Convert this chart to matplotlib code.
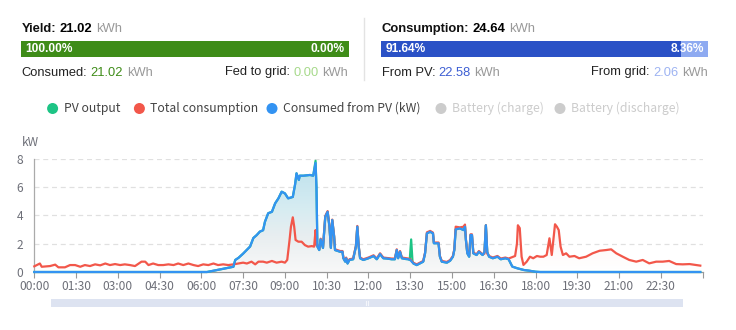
import numpy as np
import matplotlib
matplotlib.use("Agg")
import matplotlib.pyplot as plt
from matplotlib.patches import Polygon, Rectangle, Circle

# ---- data (minutes of day, kW) ----
pv_t = [0, 372, 400, 429, 433, 440, 450, 465, 472, 479,
        486, 493, 497, 504, 512, 519, 526, 533, 540, 547,
        557, 562, 565, 570, 572, 580, 594, 601, 606, 608,
        610, 614, 617, 622, 627, 632, 636, 639, 642, 646,
        648, 659, 664, 666, 670, 672, 675, 679, 687, 693,
        696, 699, 702, 709, 720, 731, 738, 745, 752, 760,
        770, 777, 781, 784, 788, 792, 800, 806, 809, 812,
        815, 817, 824, 831, 838, 842, 846, 853, 859, 861,
        871, 874, 878, 889, 896, 902, 905, 908, 917, 925,
        928, 930, 933, 937, 940, 943, 946, 953, 958, 966,
        970, 973, 976, 980, 988, 998, 1005, 1015, 1022, 1030,
        1041, 1055, 1065, 1080, 1090, 1435]
pv_kw = [0, 0, 0.18, 0.37, 0.85, 1.0, 1.3, 1.8, 2.4, 2.6,
         2.85, 2.95, 3.55, 4.15, 4.25, 4.85, 5.2, 5.67, 5.55, 5.2,
         5.3, 6.2, 6.97, 6.5, 6.8, 6.8, 6.85, 6.8, 7.85, 6.0,
         1.8, 1.55, 2.3, 1.7, 3.9, 4.25, 3.2, 1.7, 3.67, 2.5,
         1.55, 1.43, 1.43, 0.97, 0.73, 0.97, 0.6, 0.85, 0.9, 1.8,
         3.2, 1.8, 0.97, 0.85, 0.97, 1.13, 0.9, 1.27, 0.97, 0.95,
         0.9, 0.9, 1.55, 0.97, 1.43, 0.97, 0.92, 0.9, 0.85, 2.3,
         0.7, 0.6, 0.49, 0.61, 0.73, 1.32, 2.73, 2.84, 2.73, 2.03,
         2.03, 1.08, 0.73, 0.66, 0.8, 1.08, 1.55, 3.01, 3.08, 2.96,
         3.2, 2.26, 1.32, 1.08, 2.61, 2.61, 1.32, 1.2, 1.43, 1.2,
         1.4, 3.3, 1.4, 1.08, 0.97, 1.08, 0.9, 0.97, 0.9, 0.38,
         0.26, 0.14, 0.1, 0.02, 0, 0]

used_t = [0, 372, 400, 429, 433, 440, 450, 465, 472, 479,
          486, 493, 497, 504, 512, 519, 526, 533, 540, 547,
          557, 562, 565, 570, 572, 580, 594, 601, 606, 608,
          610, 614, 617, 622, 627, 632, 636, 639, 642, 646,
          648, 659, 664, 666, 670, 672, 675, 679, 687, 693,
          696, 699, 702, 709, 720, 731, 738, 745, 752, 760,
          770, 777, 781, 784, 788, 792, 800, 806, 810, 817,
          824, 831, 838, 842, 846, 853, 859, 861, 871, 874,
          878, 889, 896, 902, 905, 908, 917, 925, 928, 930,
          933, 937, 940, 943, 946, 953, 958, 966, 970, 973,
          976, 980, 988, 998, 1005, 1015, 1022, 1030, 1041, 1055,
          1065, 1080, 1090, 1435]
used_kw = [0, 0, 0.18, 0.37, 0.85, 1.0, 1.3, 1.8, 2.4, 2.6,
           2.85, 2.95, 3.55, 4.15, 4.25, 4.85, 5.2, 5.67, 5.55, 5.2,
           5.3, 6.2, 6.97, 6.5, 6.8, 6.8, 6.85, 6.8, 7.7, 6.0,
           1.8, 1.55, 2.3, 1.7, 3.9, 4.25, 3.2, 1.7, 3.67, 2.5,
           1.55, 1.43, 1.43, 0.97, 0.73, 0.97, 0.6, 0.85, 0.9, 1.8,
           3.2, 1.8, 0.97, 0.85, 0.97, 1.13, 0.9, 1.27, 0.97, 0.95,
           0.9, 0.9, 1.55, 0.97, 1.43, 0.97, 0.92, 0.9, 0.85, 0.6,
           0.49, 0.61, 0.73, 1.32, 2.73, 2.84, 2.73, 2.03, 2.03, 1.08,
           0.73, 0.66, 0.8, 1.08, 1.55, 3.01, 3.08, 2.96, 3.2, 2.26,
           1.32, 1.08, 2.61, 2.61, 1.32, 1.2, 1.43, 1.2, 1.4, 3.3,
           1.4, 1.08, 0.97, 1.08, 0.9, 0.97, 0.9, 0.38, 0.26, 0.14,
           0.1, 0.02, 0, 0]

load_t = [0, 12, 16, 34, 45, 52, 66, 77, 88, 99,
          109, 120, 131, 142, 153, 163, 174, 185, 195, 206,
          217, 231, 239, 246, 256, 267, 278, 289, 300, 310,
          321, 332, 343, 353, 364, 375, 386, 396, 407, 418,
          429, 440, 450, 458, 468, 476, 483, 493, 501, 512,
          522, 533, 540, 545, 550, 553, 557, 560, 563, 569,
          576, 583, 590, 598, 603, 606, 608, 610, 614, 617,
          622, 627, 632, 636, 639, 642, 646, 648, 659, 664,
          666, 670, 672, 675, 679, 687, 693, 696, 699, 702,
          709, 720, 731, 738, 745, 752, 770, 777, 781, 784,
          788, 792, 806, 810, 817, 824, 831, 838, 842, 846,
          853, 859, 861, 871, 874, 878, 889, 896, 902, 905,
          908, 917, 925, 928, 930, 933, 937, 940, 943, 946,
          953, 958, 966, 970, 973, 976, 980, 988, 998, 1005,
          1015, 1022, 1030, 1036, 1040, 1042, 1046, 1050, 1054, 1061,
          1068, 1075, 1083, 1090, 1097, 1104, 1110, 1115, 1122, 1126,
          1130, 1134, 1139, 1146, 1153, 1164, 1174, 1189, 1203, 1218,
          1232, 1243, 1254, 1268, 1282, 1297, 1311, 1325, 1340, 1354,
          1368, 1383, 1397, 1412, 1426, 1435]
load_kw = [0.4, 0.6, 0.37, 0.42, 0.52, 0.33, 0.33, 0.49, 0.49, 0.37,
           0.49, 0.42, 0.54, 0.47, 0.6, 0.49, 0.56, 0.49, 0.54, 0.49,
           0.42, 0.73, 0.73, 0.49, 0.6, 0.49, 0.49, 0.54, 0.49, 0.6,
           0.49, 0.6, 0.49, 0.42, 0.54, 0.49, 0.6, 0.49, 0.54, 0.49,
           0.54, 0.6, 0.66, 0.6, 0.73, 0.54, 0.73, 0.73, 0.66, 0.78,
           0.66, 0.73, 0.66, 0.85, 2.26, 3.2, 3.86, 3.2, 2.26, 2.14,
           2.14, 1.9, 1.79, 1.83, 1.79, 2.96, 1.9, 1.85, 1.6, 2.35,
           1.75, 3.95, 4.3, 3.25, 1.75, 3.7, 2.55, 1.6, 1.48, 1.48,
           1.02, 0.78, 1.02, 0.65, 0.9, 0.95, 1.85, 3.25, 1.85, 1.02,
           0.9, 1.02, 1.18, 0.95, 1.32, 1.02, 0.95, 0.95, 1.6, 1.02,
           1.48, 1.02, 0.95, 0.9, 0.65, 0.54, 0.66, 0.78, 1.37, 2.8,
           2.9, 2.78, 2.08, 2.08, 1.13, 0.78, 0.71, 0.85, 1.13, 1.6,
           3.2, 3.15, 3.2, 3.35, 2.31, 1.37, 1.13, 2.66, 2.66, 1.37,
           1.25, 1.48, 1.25, 1.3, 3.3, 1.3, 1.13, 1.02, 1.13, 0.95,
           1.02, 0.95, 1.05, 1.13, 2.0, 3.3, 3.1, 1.08, 0.5, 0.73,
           1.08, 0.97, 1.13, 1.08, 1.08, 1.2, 2.38, 1.2, 3.37, 3.2,
           2.96, 1.79, 1.2, 1.32, 1.08, 1.13, 0.97, 1.08, 1.32, 1.5,
           1.55, 1.6, 1.32, 1.08, 0.85, 0.73, 0.85, 0.61, 0.73, 0.73,
           0.78, 0.56, 0.54, 0.56, 0.49, 0.45]

tick_min = list(range(0, 1441, 90))
tick_lab = ["00:00", "01:30", "03:00", "04:30", "06:00", "07:30", "09:00", "10:30",
            "12:00", "13:30", "15:00", "16:30", "18:00", "19:30", "21:00", "22:30", ""]

series_names = ["PV output", "Total consumption", "Consumed from PV (kW)",
                "Battery (charge)", "Battery (discharge)"]
series_colors = ["#1dc485", "#f2574a", "#3393f2", "#cccccc", "#cccccc"]

yield_kwh, consumed_kwh, fed_kwh = "21.02", "21.02", "0.00"
yield_pct = ["100.00%", "0.00%"]
cons_kwh, from_pv_kwh, from_grid_kwh = "24.64", "22.58", "2.06"
cons_pct = ["91.64%", "8.36%"]
cons_share = 0.9164

# ---- figure ----
W, H = 736, 330
fig = plt.figure(figsize=(W / 100, H / 100), dpi=100)
ov = fig.add_axes([0, 0, 1, 1])
ov.set_xlim(0, W)
ov.set_ylim(H, 0)
ov.axis("off")

ax = fig.add_axes([34.3 / W, (H - 272) / H, 668.3 / W, 113.3 / H])
ax.set_facecolor("none")

rend = fig.canvas.get_renderer()
HEAD = "Liberation Sans"
CJK = ["Noto Sans CJK SC", "DejaVu Sans"]


def row(x, y, parts, align="left", size=9):
    objs = [ov.text(0, y, s, color=c, fontweight=w, fontsize=size, family=HEAD,
                    va="baseline", ha="left") for s, c, w in parts]
    widths = [o.get_window_extent(rend).width for o in objs]
    gap = size * 0.28 * 100 / 72
    total = sum(widths) + gap * (len(objs) - 1)
    cur = x if align == "left" else x - total
    for o, wd in zip(objs, widths):
        o.set_x(cur)
        cur += wd + gap


GRAY = "#999999"
# left panel
row(21.5, 32, [("Yield:", "#111111", "bold"), (yield_kwh, "#000000", "bold"), ("kWh", GRAY, "normal")], size=9.4)
ov.add_patch(Rectangle((21, 41), 327.5, 15.5, color="#3e8c18", lw=0))
ov.text(25.5, 48.8, yield_pct[0], color="white", fontsize=8.6, fontweight="bold", family=HEAD, va="center")
ov.text(345, 48.8, yield_pct[1], color="white", fontsize=8.6, fontweight="bold", family=HEAD, va="center", ha="right")
row(21.5, 75.5, [("Consumed:", "#222222", "normal"), (consumed_kwh, "#3e8c18", "normal"), ("kWh", GRAY, "normal")],
    size=9.3)
row(348, 75.5, [("Fed to grid:", "#222222", "normal"), (fed_kwh, "#a6d98a", "normal"), ("kWh", GRAY, "normal")],
    align="right", size=9.3)

ov.plot([364, 364], [18, 80], color="#e3e3e3", lw=1)

# right panel
row(381.5, 32, [("Consumption:", "#111111", "bold"), (cons_kwh, "#000000", "bold"), ("kWh", GRAY, "normal")],
    size=9.4)
bw = 327.3
ov.add_patch(Rectangle((381, 41), bw * cons_share, 15.5, color="#2a51c6", lw=0))
ov.add_patch(Rectangle((381 + bw * cons_share, 41), bw * (1 - cons_share), 15.5, color="#8eaaf1", lw=0))
ov.text(385.5, 48.8, cons_pct[0], color="white", fontsize=8.6, fontweight="bold", family=HEAD, va="center")
ov.text(704, 48.8, cons_pct[1], color="white", fontsize=8.6, fontweight="bold", family=HEAD, va="center", ha="right")
row(381.5, 75.5, [("From PV:", "#222222", "normal"), (from_pv_kwh, "#3d5ed3", "normal"), ("kWh", GRAY, "normal")],
    size=9.3)
row(708, 75.5, [("From grid:", "#222222", "normal"), (from_grid_kwh, "#9db3f2", "normal"), ("kWh", GRAY, "normal")],
    align="right", size=9.3)

# legend
leg_x = [52.6, 139.4, 272, 441, 560]
for i, (name, col) in enumerate(zip(series_names, series_colors)):
    ov.add_patch(Circle((leg_x[i], 108.5), 5.5, color=col, lw=0))
    tcol = "#444444" if i < 3 else "#cccccc"
    ov.text(leg_x[i] + 11, 108.5, name, color=tcol, fontsize=8.8, family=CJK, va="center")

# data zoom slider
ov.add_patch(Rectangle((51, 299), 632, 8, color="#dde3f1", lw=0))
ov.plot([366, 366], [301, 305], color="#f4f6fb", lw=0.8)
ov.plot([368, 368], [301, 305], color="#f4f6fb", lw=0.8)


def grad_fill(x, y, colors, zorder):
    verts = np.column_stack([np.r_[x[0], x, x[-1]], np.r_[0, y, 0]])
    patch = Polygon(verts, closed=True, facecolor="none", edgecolor="none")
    ax.add_patch(patch)
    img = np.array(colors)[:, None, :]
    im = ax.imshow(img, extent=[0, 1440, 0, 8], origin="lower", aspect="auto",
                   interpolation="bilinear", zorder=zorder)
    im.set_clip_path(patch)


# gradient stops from 0 to 8 kW
n = 64
lv = np.linspace(0, 8, n)
red_rgba = [(0.95, 0.34, 0.29, 0.09 * min(v / 4.0, 1.0)) for v in lv]
stops_v = [0, 2.5, 4.5, 8]
stops_c = np.array([[248, 248, 248], [232, 238, 240], [214, 236, 242], [186, 224, 236]]) / 255
blue_rgba = [(*[np.interp(v, stops_v, stops_c[:, k]) for k in range(3)], 1.0) for v in lv]

grad_fill(np.array(load_t), np.array(load_kw), red_rgba, 1)
grad_fill(np.array(used_t), np.array(used_kw), blue_rgba, 1.5)

ax.plot(pv_t, pv_kw, color=series_colors[0], lw=1.6, zorder=3, clip_on=False)
ax.plot(load_t, load_kw, color=series_colors[1], lw=1.6, zorder=4, clip_on=False)
ax.plot(used_t, used_kw, color=series_colors[2], lw=1.6, zorder=5, clip_on=False)

ax.set_xlim(0, 1440)
ax.set_ylim(0, 8)
for v in [2, 4, 6, 8]:
    ax.axhline(v, color="#e0e0e0", lw=0.9, dashes=(4, 3), zorder=0)
ax.set_xticks(tick_min)
ax.set_xticklabels(tick_lab, family=CJK, fontsize=8.6, color="#6e7079")
ax.set_yticks([0, 2, 4, 6, 8])
ax.set_yticklabels(["0", "2", "4", "6", "8"], family=CJK, fontsize=8.6, color="#6e7079")
ax.tick_params(axis="x", length=4, width=0.8, color="#999999", pad=2)
ax.tick_params(axis="y", length=0, pad=8)
for s in ["top", "right"]:
    ax.spines[s].set_visible(False)
ax.spines["left"].set_color("#aaaaaa")
ax.spines["bottom"].set_color("#999999")
ax.spines["left"].set_linewidth(0.9)
ax.spines["bottom"].set_linewidth(0.9)
ax.spines["bottom"].set_zorder(2)
ov.text(22, 143, "kW", family=CJK, fontsize=8.6, color="#6e7079", va="center")

fig.savefig("out.png", dpi=100, facecolor="white")
